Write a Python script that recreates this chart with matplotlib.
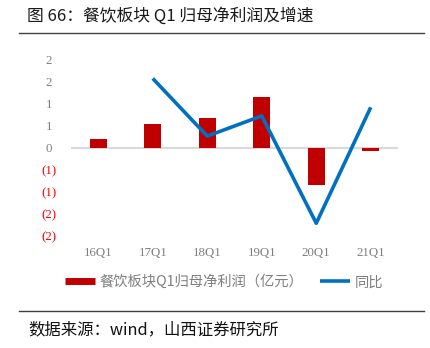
import numpy as np
import matplotlib
matplotlib.use("Agg")
import matplotlib.pyplot as plt
from matplotlib.lines import Line2D

plt.rcParams['font.family'] = ['Noto Sans CJK SC', 'DejaVu Sans']

categories = ['16Q1', '17Q1', '18Q1', '19Q1', '20Q1', '21Q1']
profit = [0.20, 0.55, 0.675, 1.17, -0.83, -0.075]          # 亿元
growth = [np.nan, 1.58, 0.27, 0.73, -1.71, 0.925]          # 同比
yticks = [-2.0, -1.5, -1.0, -0.5, 0.0, 0.5, 1.0, 1.5, 2.0]

title = '图 66：餐饮板块 Q1 归母净利润及增速'
source = '数据来源：wind，山西证券研究所'
bar_label = '餐饮板块Q1归母净利润（亿元）'
line_label = '同比'

RED = '#C00000'
BLUE = '#0070C0'
GRAY = '#7f7f7f'

fig = plt.figure(figsize=(4.3, 3.48), dpi=100)
ax = fig.add_axes([71/430, 1-236/348, 327/430, 176/348])

x = np.arange(len(categories))
ax.bar(x, profit, width=0.31, color=RED, zorder=3)
ax.axhline(0, color='#d9d9d9', lw=1.5, zorder=2)
ax.set_xlim(-0.5, len(categories) - 0.5)
ax.set_ylim(-2, 2)

def fmt(v):
    r = int(np.floor(abs(v) + 0.5))
    if v < 0:
        return '(%d)' % r
    return '%d' % r

ax.set_yticks(yticks)
ax.set_yticklabels([fmt(v) for v in yticks], fontfamily='Liberation Serif', fontsize=9.3)
for lab, v in zip(ax.get_yticklabels(), yticks):
    lab.set_color('#FF0000' if v < 0 else GRAY)
    lab.set_horizontalalignment('center')
ax.tick_params(axis='y', length=0, pad=15.8)

ax.set_xticks(x)
ax.set_xticklabels(categories, fontfamily='Liberation Serif', fontsize=9.3, color=GRAY)
ax.tick_params(axis='x', length=0, pad=8.0)
for s in ax.spines.values():
    s.set_visible(False)

ax2 = ax.twinx()
ax2.set_position(ax.get_position())
ax2.plot(x, growth, color=BLUE, lw=2.6, solid_capstyle='butt', zorder=4)
ax2.set_ylim(-2, 2)
ax2.set_yticks([])
for s in ax2.spines.values():
    s.set_visible(False)

handles = [Line2D([0], [0], color=RED, lw=5.0, solid_capstyle='butt'),
           Line2D([0], [0], color=BLUE, lw=2.6, solid_capstyle='butt')]
fig.legend(handles, [bar_label, line_label], loc='center', bbox_to_anchor=(0.521, 1-282/348),
           ncol=2, frameon=False, fontsize=10.3, labelcolor=GRAY, handlelength=2.1,
           handletextpad=0.3, columnspacing=1.2)

fig.text(27/430, 1-16/348, title, fontsize=12.1, va='center', ha='left', color='#1a1a1a')
fig.add_artist(Line2D([19/430, 424/430], [1-33/348, 1-33/348], color='#404040', lw=1.0))
fig.add_artist(Line2D([19/430, 424/430], [1-311/348, 1-311/348], color='#404040', lw=1.0))
fig.text(28/430, 1-330/348, source, fontsize=11.8, va='center', ha='left', color='#111111')

fig.savefig('out.png', dpi=100)
